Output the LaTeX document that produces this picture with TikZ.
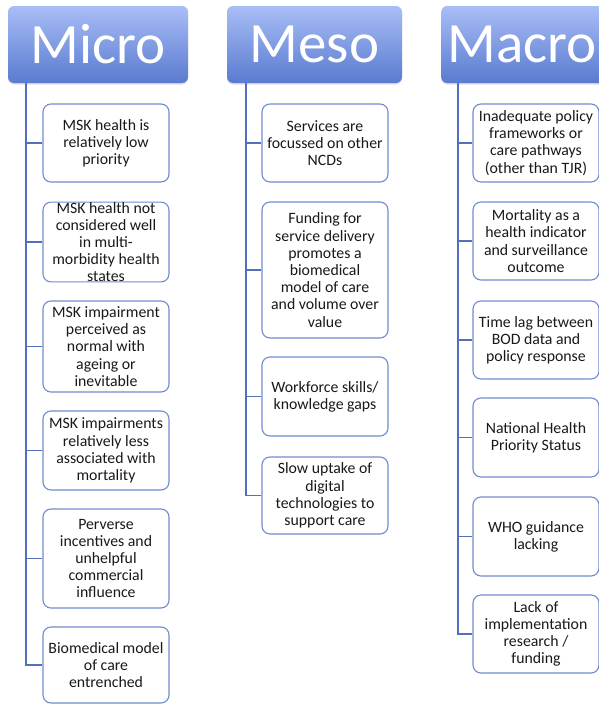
\documentclass[tikz,border=0pt]{standalone}
\usepackage{fontspec}
\setmainfont{Carlito}
\usetikzlibrary{shadows}
\definecolor{spinec}{RGB}{84,112,188}
\definecolor{boxc}{RGB}{112,140,206}
\definecolor{hdrtop}{RGB}{168,190,246}
\definecolor{hdrbot}{RGB}{90,122,208}
\definecolor{txtc}{RGB}{25,25,25}
\tikzset{
  hdr/.style={rounded corners=6pt, top color=hdrtop, bottom color=hdrbot, draw=none,
    text=white, font=\fontsize{57}{60}\selectfont, inner sep=0pt,
    drop shadow={opacity=0.25, shadow xshift=0pt, shadow yshift=-1.5pt}},
  itembox/.style={draw=boxc, line width=1.1pt, rounded corners=8pt, fill=white,
    minimum width=126pt, align=center, text=txtc, inner sep=0pt,
    font=\fontsize{15.8}{17.2}\selectfont},
  conn/.style={draw=spinec, line width=1.3pt}
}
\begin{document}
\begin{tikzpicture}[x=1pt,y=-1pt]
\useasboundingbox (0,0) rectangle (598,704);
% headers
\node[hdr, minimum width=180pt, minimum height=77pt] (mi) at (98,44.5) {\raisebox{-3pt}{Micro}};
\node[hdr, minimum width=175pt, minimum height=77pt] (me) at (314.5,44.5) {\raisebox{-3pt}{Meso}};
\node[hdr, minimum width=180pt, minimum height=77pt, anchor=west] (ma) at (441,44.5) {\hspace{-18pt}\raisebox{-3pt}{Macro}};
\coordinate (miS) at (26,83);
\coordinate (meS) at (246,83);
\coordinate (maS) at (458,83);
% Micro
\node[itembox, minimum height=78pt] (mi1) at (106,143) {MSK health is\\relatively low\\priority};
\node[itembox, minimum height=78pt] (mi2) at (106,242) {MSK health not\\considered well\\in multi-\\morbidity health\\states};
\node[itembox, minimum height=91pt] (mi3) at (106,346.5) {MSK impairment\\perceived as\\normal with\\ageing or\\inevitable};
\node[itembox, minimum height=79pt] (mi4) at (106,450.5) {MSK impairments\\relatively less\\associated with\\mortality};
\node[itembox, minimum height=99pt] (mi5) at (106,558.5) {Perverse\\incentives and\\unhelpful\\commercial\\influence};
\node[itembox, minimum height=76pt] (mi6) at (106,665) {Biomedical model\\of care\\entrenched};
% Meso
\node[itembox, minimum height=78pt] (me1) at (325,143) {Services are\\focussed on other\\NCDs};
\node[itembox, minimum height=136pt] (me2) at (325,270) {Funding for\\service delivery\\promotes a\\biomedical\\model of care\\and volume over\\value};
\node[itembox, minimum height=79pt] (me3) at (325,396.5) {Workforce skills/\\knowledge gaps};
\node[itembox, minimum height=77pt] (me4) at (325,495.5) {Slow uptake of\\digital\\technologies to\\support care};
% Macro
\node[itembox, minimum height=78pt] (ma1) at (536,143) {Inadequate policy\\frameworks or\\care pathways\\(other than TJR)};
\node[itembox, minimum height=78pt] (ma2) at (536,241) {Mortality as a\\health indicator\\and surveillance\\outcome};
\node[itembox, minimum height=78pt] (ma3) at (536,340) {Time lag between\\BOD data and\\policy response};
\node[itembox, minimum height=79pt] (ma4) at (536,437.5) {National Health\\Priority Status};
\node[itembox, minimum height=79pt] (ma5) at (536,536.5) {WHO guidance\\lacking};
\node[itembox, minimum height=78pt] (ma6) at (536,634) {Lack of\\implementation\\research /\\funding};
% connectors
\foreach \i in {1,...,6} { \draw[conn] (miS) |- (mi\i.west); }
\foreach \i in {1,...,4} { \draw[conn] (meS) |- (me\i.west); }
\foreach \i in {1,...,6} { \draw[conn] (maS) |- (ma\i.west); }
\end{tikzpicture}
\end{document}
